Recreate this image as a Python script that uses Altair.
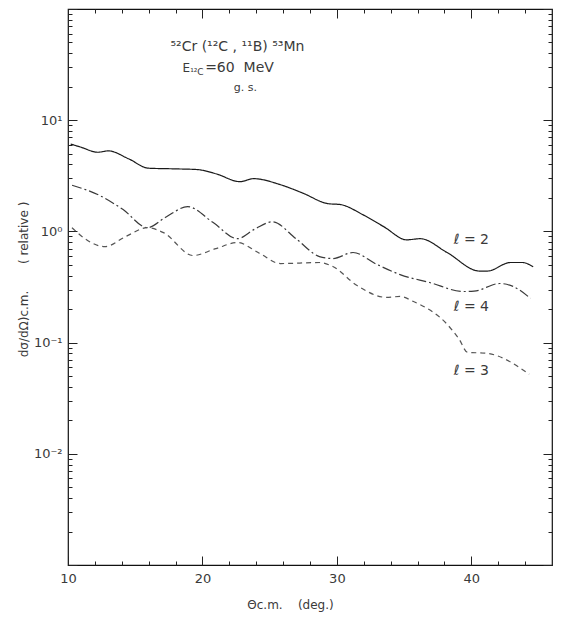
import altair as alt
import pandas as pd

# ---- curve data ----
theta_l2 = [10.2, 11.0, 12.2, 13.0, 14.5, 16.0, 18.0, 19.6, 21.0, 22.8, 23.8, 25.8, 27.5,
            29.3, 30.3, 31.9, 33.5, 35.2, 36.2, 38.2, 40.6, 41.2, 42.9, 43.8, 44.6]
sigma_l2 = [6.1, 5.7, 5.15, 5.3, 4.5, 3.7, 3.65, 3.6, 3.3, 2.8, 2.98, 2.63, 2.2,
            1.78, 1.74, 1.42, 1.1, 0.84, 0.86, 0.645, 0.44, 0.44, 0.525, 0.525, 0.48]

theta_l4 = [10.3, 12.4, 14.1, 15.9, 17.3, 18.9, 20.8, 22.6, 23.9, 25.2, 27.0, 28.7, 29.7,
            31.2, 32.9, 34.7, 36.9, 39.4, 40.2, 42.1, 43.1, 44.4]
sigma_l4 = [2.6, 2.09, 1.57, 1.08, 1.35, 1.67, 1.2, 0.86, 1.05, 1.22, 0.85, 0.594, 0.57,
            0.646, 0.51, 0.409, 0.347, 0.288, 0.29, 0.34, 0.32, 0.25]

theta_l3 = [10.3, 11.2, 12.75, 14.3, 15.9, 17.1, 19.3, 21.0, 22.6, 24.2, 25.8, 28.7, 29.7,
            31.5, 33.7, 34.7, 35.7, 38.2, 39.1, 39.7, 41.2, 44.3]
sigma_l3 = [1.08, 0.87, 0.73, 0.9, 1.08, 0.975, 0.607, 0.7, 0.794, 0.64, 0.514, 0.525, 0.483,
            0.326, 0.255, 0.26, 0.234, 0.146, 0.107, 0.082, 0.080, 0.052]

series_names = ["l2", "l4", "l3"]
series_colors = ["#1a1a1a", "#3a3a3a", "#555555"]
series_dashes = [[1, 0], [10, 3, 2, 3], [5, 4]]

# ---- curve labels ----
curve_label_text = ["ℓ = 2", "ℓ = 4", "ℓ = 3"]
curve_label_x = [40.0, 40.0, 40.0]
curve_label_y = [0.83, 0.207, 0.055]

# ---- reaction annotation ----
NB = "\u00a0"
reaction_text = ["⁵²Cr (¹²C , ¹¹B) ⁵³Mn"]
energy_text = ["=60" + NB * 2 + "MeV"]
energy_sym = ["E"]
energy_sub = ["¹²C"]
gs_text = ["g. s."]
ann_x = [22.6]
energy_x = [20.2]
gs_x = [23.2]
reaction_y = [46.0]
energy_y = [29.5]
gs_y = [19.5]

# ---- axes ----
x_domain = [10, 46]
y_domain = [0.001, 100]
x_major = [10, 20, 30, 40]
x_minor = [12, 14, 16, 18, 22, 24, 26, 28, 32, 34, 36, 38, 42, 44]
y_major = [0.001, 0.01, 0.1, 1, 10, 100]
y_minor = [k * 10.0 ** e for e in range(-3, 2) for k in range(2, 10)]
y_label_values = [10, 1, 0.1, 0.01]
y_label_texts = ["10¹", "10⁰", "10⁻¹", "10⁻²"]
x_title = "Θc.m." + NB * 4 + "(deg.)"
y_title = "dσ/dΩ)c.m." + NB * 7 + "( relative )"

rows = []
for name, th, sg in [("l2", theta_l2, sigma_l2), ("l4", theta_l4, sigma_l4), ("l3", theta_l3, sigma_l3)]:
    for t, s in zip(th, sg):
        rows.append({"series": name, "theta": t, "sigma": s})
df = pd.DataFrame(rows)

FONT = "DejaVu Sans"
TXT = "#3a3a3a"

xs = alt.Scale(domain=x_domain, nice=False, zero=False)
ys = alt.Scale(type="log", domain=y_domain, nice=False)

label_expr = " : ".join(f"datum.value == {v} ? '{t}'" for v, t in zip(y_label_values, y_label_texts)) + " : ''"

curves = alt.Chart(df).mark_line(interpolate="monotone", strokeWidth=1.2).encode(
    x=alt.X("theta:Q", scale=xs, axis=alt.Axis(
        orient="bottom", values=x_major, tickSize=0, domain=False, grid=False,
        labelPadding=7, labelFont=FONT, labelFontSize=13, labelColor=TXT, labelFlush=False,
        title=x_title, titleFont=FONT, titleFontSize=12, titleFontWeight="normal",
        titleColor=TXT, titleX=222, titleY=39, titleAlign="center", titleBaseline="middle")),
    y=alt.Y("sigma:Q", scale=ys, axis=alt.Axis(
        orient="left", values=y_label_values, labelExpr=label_expr, tickSize=0, domain=False,
        grid=False, labelPadding=6, labelFont=FONT, labelFontSize=13, labelColor=TXT,
        title=y_title, titleFont=FONT, titleFontSize=12,
        titleFontWeight="normal", titleColor=TXT, titleX=-45, titleY=270,
        titleAlign="center", titleBaseline="middle", titleAngle=270)),
    color=alt.Color("series:N", scale=alt.Scale(domain=series_names, range=series_colors), legend=None),
    strokeDash=alt.StrokeDash("series:N", scale=alt.Scale(domain=series_names, range=series_dashes), legend=None),
)


def tick_layer(xvals, yvals, xorient, yorient, size):
    return alt.Chart(df).mark_point(opacity=0).encode(
        x=alt.X("theta:Q", scale=xs, axis=alt.Axis(
            orient=xorient, values=xvals, tickSize=size, offset=-size, labels=False,
            domain=False, grid=False, title=None, tickColor="#222", tickWidth=1)),
        y=alt.Y("sigma:Q", scale=ys, axis=alt.Axis(
            orient=yorient, values=yvals, tickSize=size, offset=-size, labels=False,
            domain=False, grid=False, title=None, tickColor="#222", tickWidth=1)),
    )


ticks = [
    tick_layer(x_major, y_major, "bottom", "left", 9),
    tick_layer(x_minor, y_minor, "bottom", "left", 4),
    tick_layer(x_major, y_major, "top", "right", 9),
    tick_layer(x_minor, y_minor, "top", "right", 4),
]

lab_df = pd.DataFrame({"x": curve_label_x, "y": curve_label_y, "t": curve_label_text})
curve_labels = alt.Chart(lab_df).mark_text(font=FONT, fontSize=14, color=TXT, align="center", baseline="middle").encode(
    x=alt.X("x:Q", scale=xs, axis=None), y=alt.Y("y:Q", scale=ys, axis=None), text="t:N")


def ann(xv, yv, tv, size, align="center", dx=0, dy=0):
    d = pd.DataFrame({"x": xv, "y": yv, "t": tv})
    return alt.Chart(d).mark_text(font=FONT, fontSize=size, color=TXT, align=align,
                                  baseline="middle", dx=dx, dy=dy).encode(
        x=alt.X("x:Q", scale=xs, axis=None), y=alt.Y("y:Q", scale=ys, axis=None), text="t:N")


annotations = [
    ann(ann_x, reaction_y, reaction_text, 14),
    ann(energy_x, energy_y, energy_text, 14, align="left"),
    ann(energy_x, energy_y, energy_sym, 12, align="right", dx=-15),
    ann(energy_x, energy_y, energy_sub, 9, align="left", dx=-15, dy=4),
    ann(gs_x, gs_y, gs_text, 11),
]

chart = alt.layer(curves, *ticks, curve_labels, *annotations).resolve_axis(
    x="independent", y="independent"
).properties(
    width=484, height=556,
    autosize=alt.AutoSizeParams(type="none"),
    padding={"left": 68, "top": 9, "right": 16, "bottom": 52},
    background="white",
).configure_view(stroke="#111", strokeWidth=1.2)

chart.save("out.html", embed_options={"renderer": "svg", "actions": False})
